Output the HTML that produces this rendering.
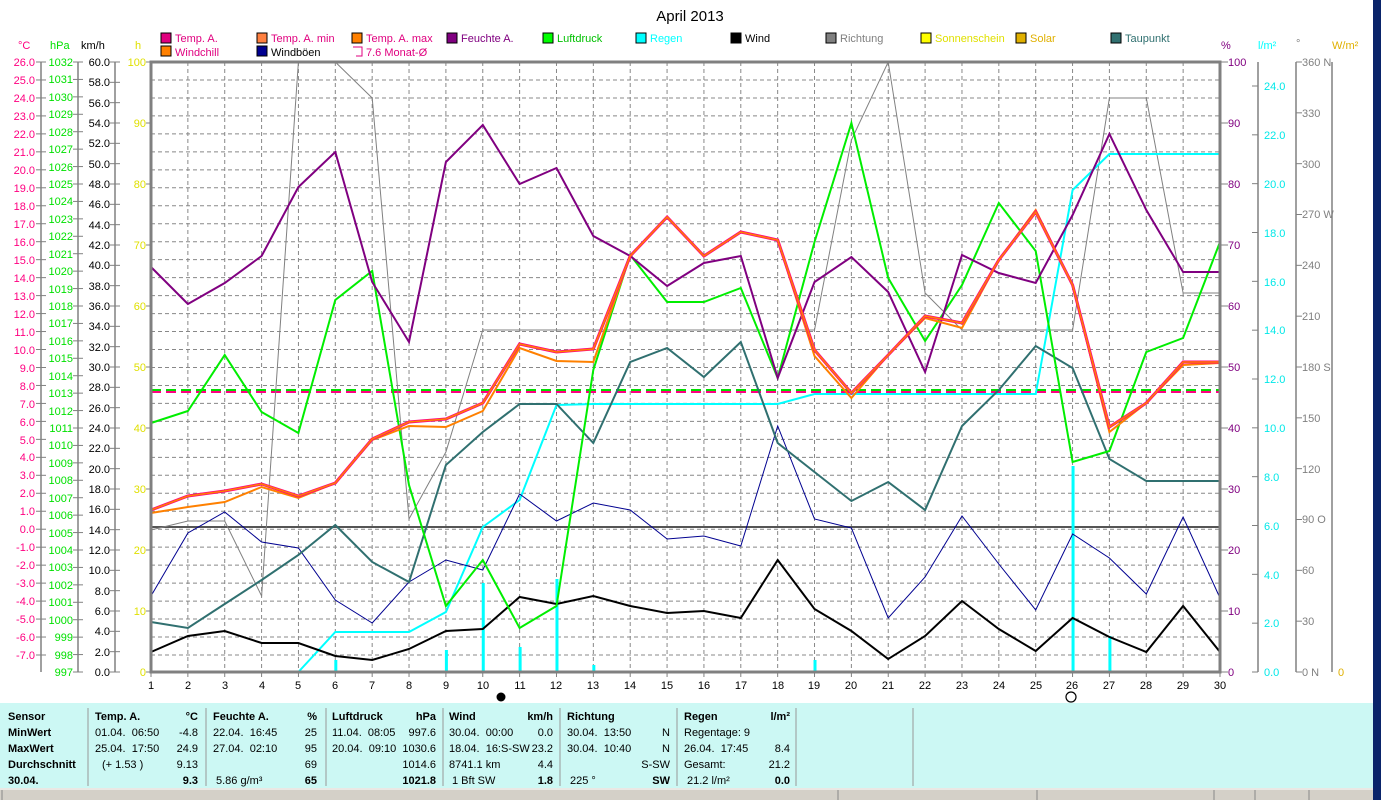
<!DOCTYPE html>
<html><head><meta charset="utf-8"><style>
body{margin:0;width:1381px;height:800px;background:#fff;overflow:hidden;position:relative;font-family:"Liberation Sans",sans-serif}
svg{position:absolute;left:0;top:0}
.t{position:absolute;font-size:11px;white-space:nowrap;color:#000;line-height:13px}
.b{font-weight:bold}
.r{text-align:right}
</style></head><body>
<svg width="1381" height="800" viewBox="0 0 1381 800" font-family="Liberation Sans, sans-serif" font-size="11">
<rect x="0" y="703" width="1373" height="86" fill="#ccf8f4"/>
<rect x="0" y="788" width="1373" height="12" fill="#d4d0c8"/>
<g stroke="#888" stroke-width="1"><line x1="2" y1="790" x2="2" y2="800"/><line x1="838" y1="790" x2="838" y2="800"/><line x1="1037" y1="790" x2="1037" y2="800"/><line x1="1214" y1="790" x2="1214" y2="800"/><line x1="1255" y1="790" x2="1255" y2="800"/><line x1="1309" y1="790" x2="1309" y2="800"/><line x1="0" y1="789" x2="1373" y2="789" stroke="#fff"/></g>
<g stroke="#999" stroke-width="1"><line x1="88" y1="708" x2="88" y2="786"/><line x1="206" y1="708" x2="206" y2="786"/><line x1="326" y1="708" x2="326" y2="786"/><line x1="443" y1="708" x2="443" y2="786"/><line x1="560" y1="708" x2="560" y2="786"/><line x1="677" y1="708" x2="677" y2="786"/><line x1="796" y1="708" x2="796" y2="786"/><line x1="913" y1="708" x2="913" y2="786"/></g>
<rect x="1373" y="0" width="8" height="800" fill="#0a246a"/>
<text x="690" y="21" font-size="15" text-anchor="middle">April 2013</text>
<g id="grid" stroke="#888" stroke-dasharray="4,3" stroke-width="1"></g>
<line x1="151" y1="527" x2="1220" y2="527" stroke="#555" stroke-width="2"/>
<line x1="151" y1="390" x2="1220" y2="390" stroke="#00e000" stroke-width="2" stroke-dasharray="10,5"/>
<line x1="151" y1="392" x2="1220" y2="392" stroke="#ff0080" stroke-width="2" stroke-dasharray="10,5"/>
<g id="bars" stroke="#00ffff" stroke-width="3"></g>
<polyline id="rich" fill="none" stroke="#808080" stroke-width="1"/>
<polyline id="regen" fill="none" stroke="#00ffff" stroke-width="2"/>
<polyline id="boe" fill="none" stroke="#000090" stroke-width="1"/>
<polyline id="wind" fill="none" stroke="#000" stroke-width="2"/>
<polyline id="tau" fill="none" stroke="#307070" stroke-width="2"/>
<polyline id="druck" fill="none" stroke="#00ee00" stroke-width="2"/>
<polyline id="feu" fill="none" stroke="#800080" stroke-width="2"/>
<polyline id="tmin" fill="none" stroke="#ff8000" stroke-width="2"/>
<polyline id="temp" fill="none" stroke="#ff0080" stroke-width="3"/>
<polyline id="tmax" fill="none" stroke="#ff8000" stroke-width="1.5"/>
<rect x="151" y="62" width="1069" height="610" fill="none" stroke="#808080" stroke-width="3"/>
<g stroke="#808080" stroke-width="1.5"><line x1="41" y1="62" x2="41" y2="672"/><line x1="78" y1="62" x2="78" y2="672"/><line x1="115" y1="62" x2="115" y2="672"/><line x1="1258" y1="62" x2="1258" y2="672"/><line x1="1296" y1="62" x2="1296" y2="672"/><line x1="1332" y1="62" x2="1332" y2="672"/></g>
<g id="ticks" stroke="#808080" stroke-width="1"></g>
<text x="18" y="49" fill="#ff0080">°C</text><text x="50" y="49" fill="#00e000">hPa</text><text x="81" y="49">km/h</text><text x="135" y="49" fill="#e0e000">h</text>
<text x="1221" y="49" fill="#800080">%</text><text x="1258" y="49" fill="#00ffff">l/m²</text><text x="1296" y="47" fill="#808080">°</text><text x="1332" y="49" fill="#e0b000">W/m²</text>
<g>
<rect x="161" y="33" width="10" height="10" fill="#e0007f" stroke="#000"/><text x="175" y="42" fill="#e0007f">Temp. A.</text>
<rect x="257" y="33" width="10" height="10" fill="#ff8040" stroke="#000"/><text x="271" y="42" fill="#e0007f">Temp. A. min</text>
<rect x="352" y="33" width="10" height="10" fill="#ff8000" stroke="#000"/><text x="366" y="42" fill="#e0007f">Temp. A. max</text>
<rect x="447" y="33" width="10" height="10" fill="#800080" stroke="#000"/><text x="461" y="42" fill="#800080">Feuchte A.</text>
<rect x="543" y="33" width="10" height="10" fill="#00ff00" stroke="#000"/><text x="557" y="42" fill="#00c000">Luftdruck</text>
<rect x="636" y="33" width="10" height="10" fill="#00ffff" stroke="#000"/><text x="650" y="42" fill="#00ffff">Regen</text>
<rect x="731" y="33" width="10" height="10" fill="#000" stroke="#000"/><text x="745" y="42">Wind</text>
<rect x="826" y="33" width="10" height="10" fill="#808080" stroke="#000"/><text x="840" y="42" fill="#808080">Richtung</text>
<rect x="921" y="33" width="10" height="10" fill="#ffff00" stroke="#000"/><text x="935" y="42" fill="#e0e000">Sonnenschein</text>
<rect x="1016" y="33" width="10" height="10" fill="#e0b000" stroke="#000"/><text x="1030" y="42" fill="#e0b000">Solar</text>
<rect x="1111" y="33" width="10" height="10" fill="#307070" stroke="#000"/><text x="1125" y="42" fill="#307070">Taupunkt</text>
<rect x="161" y="46" width="10" height="10" fill="#ff8000" stroke="#000"/><text x="175" y="56" fill="#e0007f">Windchill</text>
<rect x="257" y="46" width="10" height="10" fill="#000090" stroke="#000"/><text x="271" y="56">Windböen</text>
<path d="M353 47 H362 V56 H356" fill="none" stroke="#e0007f"/><text x="366" y="56" fill="#e0007f">7.6 Monat-Ø</text>
</g>
<g fill="#ff0080" text-anchor="end">
<text x="35" y="66">26.0</text><text x="35" y="84">25.0</text><text x="35" y="102">24.0</text><text x="35" y="120">23.0</text><text x="35" y="138">22.0</text><text x="35" y="156">21.0</text><text x="35" y="174">20.0</text><text x="35" y="192">19.0</text><text x="35" y="210">18.0</text><text x="35" y="228">17.0</text><text x="35" y="246">16.0</text><text x="35" y="264">15.0</text><text x="35" y="282">14.0</text><text x="35" y="300">13.0</text><text x="35" y="318">12.0</text><text x="35" y="336">11.0</text><text x="35" y="354">10.0</text><text x="35" y="372">9.0</text><text x="35" y="390">8.0</text><text x="35" y="408">7.0</text><text x="35" y="426">6.0</text><text x="35" y="444">5.0</text><text x="35" y="461">4.0</text><text x="35" y="479">3.0</text><text x="35" y="497">2.0</text><text x="35" y="515">1.0</text><text x="35" y="533">0.0</text><text x="35" y="551">-1.0</text><text x="35" y="569">-2.0</text><text x="35" y="587">-3.0</text><text x="35" y="605">-4.0</text><text x="35" y="623">-5.0</text><text x="35" y="641">-6.0</text><text x="35" y="659">-7.0</text>
</g>
<g fill="#00e000" text-anchor="end">
<text x="73" y="66">1032</text><text x="73" y="83">1031</text><text x="73" y="101">1030</text><text x="73" y="118">1029</text><text x="73" y="136">1028</text><text x="73" y="153">1027</text><text x="73" y="171">1026</text><text x="73" y="188">1025</text><text x="73" y="205">1024</text><text x="73" y="223">1023</text><text x="73" y="240">1022</text><text x="73" y="258">1021</text><text x="73" y="275">1020</text><text x="73" y="293">1019</text><text x="73" y="310">1018</text><text x="73" y="327">1017</text><text x="73" y="345">1016</text><text x="73" y="362">1015</text><text x="73" y="380">1014</text><text x="73" y="397">1013</text><text x="73" y="415">1012</text><text x="73" y="432">1011</text><text x="73" y="449">1010</text><text x="73" y="467">1009</text><text x="73" y="484">1008</text><text x="73" y="502">1007</text><text x="73" y="519">1006</text><text x="73" y="537">1005</text><text x="73" y="554">1004</text><text x="73" y="571">1003</text><text x="73" y="589">1002</text><text x="73" y="606">1001</text><text x="73" y="624">1000</text><text x="73" y="641">999</text><text x="73" y="659">998</text><text x="73" y="676">997</text>
</g>
<g fill="#000" text-anchor="end">
<text x="110" y="66">60.0</text><text x="110" y="86">58.0</text><text x="110" y="107">56.0</text><text x="110" y="127">54.0</text><text x="110" y="147">52.0</text><text x="110" y="168">50.0</text><text x="110" y="188">48.0</text><text x="110" y="208">46.0</text><text x="110" y="229">44.0</text><text x="110" y="249">42.0</text><text x="110" y="269">40.0</text><text x="110" y="290">38.0</text><text x="110" y="310">36.0</text><text x="110" y="330">34.0</text><text x="110" y="351">32.0</text><text x="110" y="371">30.0</text><text x="110" y="391">28.0</text><text x="110" y="412">26.0</text><text x="110" y="432">24.0</text><text x="110" y="452">22.0</text><text x="110" y="473">20.0</text><text x="110" y="493">18.0</text><text x="110" y="513">16.0</text><text x="110" y="534">14.0</text><text x="110" y="554">12.0</text><text x="110" y="574">10.0</text><text x="110" y="595">8.0</text><text x="110" y="615">6.0</text><text x="110" y="635">4.0</text><text x="110" y="656">2.0</text><text x="110" y="676">0.0</text>
</g>
<g fill="#e0e000" text-anchor="end">
<text x="146" y="66">100</text><text x="146" y="127">90</text><text x="146" y="188">80</text><text x="146" y="249">70</text><text x="146" y="310">60</text><text x="146" y="371">50</text><text x="146" y="432">40</text><text x="146" y="493">30</text><text x="146" y="554">20</text><text x="146" y="615">10</text><text x="146" y="676">0</text>
</g>
<g fill="#800080">
<text x="1228" y="66">100</text><text x="1228" y="127">90</text><text x="1228" y="188">80</text><text x="1228" y="249">70</text><text x="1228" y="310">60</text><text x="1228" y="371">50</text><text x="1228" y="432">40</text><text x="1228" y="493">30</text><text x="1228" y="554">20</text><text x="1228" y="615">10</text><text x="1228" y="676">0</text>
</g>
<g fill="#00e8e8">
<text x="1264" y="90">24.0</text><text x="1264" y="139">22.0</text><text x="1264" y="188">20.0</text><text x="1264" y="237">18.0</text><text x="1264" y="286">16.0</text><text x="1264" y="334">14.0</text><text x="1264" y="383">12.0</text><text x="1264" y="432">10.0</text><text x="1264" y="481">8.0</text><text x="1264" y="530">6.0</text><text x="1264" y="579">4.0</text><text x="1264" y="627">2.0</text><text x="1264" y="676">0.0</text>
</g>
<g fill="#808080">
<text x="1302" y="66">360 N</text><text x="1302" y="117">330</text><text x="1302" y="168">300</text><text x="1302" y="218">270 W</text><text x="1302" y="269">240</text><text x="1302" y="320">210</text><text x="1302" y="371">180 S</text><text x="1302" y="422">150</text><text x="1302" y="473">120</text><text x="1302" y="523">90 O</text><text x="1302" y="574">60</text><text x="1302" y="625">30</text><text x="1302" y="676">0 N</text>
</g>
<text x="1338" y="676" fill="#e0b000">0</text>
<g text-anchor="middle" font-size="11">
<text x="151" y="689">1</text><text x="188" y="689">2</text><text x="225" y="689">3</text><text x="262" y="689">4</text><text x="298" y="689">5</text><text x="335" y="689">6</text><text x="372" y="689">7</text><text x="409" y="689">8</text><text x="446" y="689">9</text><text x="483" y="689">10</text><text x="520" y="689">11</text><text x="556" y="689">12</text><text x="593" y="689">13</text><text x="630" y="689">14</text><text x="667" y="689">15</text><text x="704" y="689">16</text><text x="741" y="689">17</text><text x="778" y="689">18</text><text x="814" y="689">19</text><text x="851" y="689">20</text><text x="888" y="689">21</text><text x="925" y="689">22</text><text x="962" y="689">23</text><text x="999" y="689">24</text><text x="1036" y="689">25</text><text x="1072" y="689">26</text><text x="1109" y="689">27</text><text x="1146" y="689">28</text><text x="1183" y="689">29</text><text x="1220" y="689">30</text>
</g>
<circle cx="501" cy="697" r="4.5" fill="#000"/>
<circle cx="1071" cy="697" r="5" fill="none" stroke="#000" stroke-width="1.2"/>
</svg>

<div class="t b" style="left:8px;top:711px">Sensor</div>
<div class="t b" style="left:8px;top:727px">MinWert</div>
<div class="t b" style="left:8px;top:743px">MaxWert</div>
<div class="t b" style="left:8px;top:759px">Durchschnitt</div>
<div class="t b" style="left:8px;top:775px">30.04.</div>

<div class="t b" style="left:95px;top:711px">Temp. A.</div><div class="t b r" style="left:150px;width:48px;top:711px">°C</div>
<div class="t" style="left:95px;top:727px">01.04.&nbsp; 06:50</div><div class="t r" style="left:150px;width:48px;top:727px">-4.8</div>
<div class="t" style="left:95px;top:743px">25.04.&nbsp; 17:50</div><div class="t r" style="left:150px;width:48px;top:743px">24.9</div>
<div class="t" style="left:102px;top:759px">(+ 1.53 )</div><div class="t r" style="left:150px;width:48px;top:759px">9.13</div>
<div class="t b r" style="left:150px;width:48px;top:775px">9.3</div>

<div class="t b" style="left:213px;top:711px">Feuchte A.</div><div class="t b r" style="left:270px;width:47px;top:711px">%</div>
<div class="t" style="left:213px;top:727px">22.04.&nbsp; 16:45</div><div class="t r" style="left:270px;width:47px;top:727px">25</div>
<div class="t" style="left:213px;top:743px">27.04.&nbsp; 02:10</div><div class="t r" style="left:270px;width:47px;top:743px">95</div>
<div class="t r" style="left:270px;width:47px;top:759px">69</div>
<div class="t" style="left:216px;top:775px">5.86 g/m³</div><div class="t b r" style="left:270px;width:47px;top:775px">65</div>

<div class="t b" style="left:332px;top:711px">Luftdruck</div><div class="t b r" style="left:380px;width:56px;top:711px">hPa</div>
<div class="t" style="left:332px;top:727px">11.04.&nbsp; 08:05</div><div class="t r" style="left:380px;width:56px;top:727px">997.6</div>
<div class="t" style="left:332px;top:743px">20.04.&nbsp; 09:10</div><div class="t r" style="left:380px;width:56px;top:743px">1030.6</div>
<div class="t r" style="left:380px;width:56px;top:759px">1014.6</div>
<div class="t b r" style="left:380px;width:56px;top:775px">1021.8</div>

<div class="t b" style="left:449px;top:711px">Wind</div><div class="t b r" style="left:500px;width:53px;top:711px">km/h</div>
<div class="t" style="left:449px;top:727px">30.04.&nbsp; 00:00</div><div class="t r" style="left:500px;width:53px;top:727px">0.0</div>
<div class="t" style="left:449px;top:743px">18.04.&nbsp; 16:S-SW</div><div class="t r" style="left:520px;width:33px;top:743px">23.2</div>
<div class="t" style="left:449px;top:759px">8741.1 km</div><div class="t r" style="left:500px;width:53px;top:759px">4.4</div>
<div class="t" style="left:452px;top:775px">1 Bft SW</div><div class="t b r" style="left:500px;width:53px;top:775px">1.8</div>

<div class="t b" style="left:567px;top:711px">Richtung</div>
<div class="t" style="left:567px;top:727px">30.04.&nbsp; 13:50</div><div class="t r" style="left:620px;width:50px;top:727px">N</div>
<div class="t" style="left:567px;top:743px">30.04.&nbsp; 10:40</div><div class="t r" style="left:620px;width:50px;top:743px">N</div>
<div class="t r" style="left:620px;width:50px;top:759px">S-SW</div>
<div class="t" style="left:570px;top:775px">225 °</div><div class="t b r" style="left:620px;width:50px;top:775px">SW</div>

<div class="t b" style="left:684px;top:711px">Regen</div><div class="t b r" style="left:740px;width:50px;top:711px">l/m²</div>
<div class="t" style="left:684px;top:727px">Regentage: 9</div>
<div class="t" style="left:684px;top:743px">26.04.&nbsp; 17:45</div><div class="t r" style="left:740px;width:50px;top:743px">8.4</div>
<div class="t" style="left:684px;top:759px">Gesamt:</div><div class="t r" style="left:740px;width:50px;top:759px">21.2</div>
<div class="t" style="left:687px;top:775px">21.2 l/m²</div><div class="t b r" style="left:740px;width:50px;top:775px">0.0</div>

<script>
var X=[];for(var i=0;i<30;i++)X.push(151+i*1069/29);
function pl(id,ys,xs){document.getElementById(id).setAttribute('points',ys.map(function(y,i){return (xs?xs[i]:X[i]).toFixed(1)+','+y}).join(' '));}
var T=[510,496,491,484,496,483,439,422,419,403,344,352,349,256,217,256,232,240,350,393,355,316,323,260,212,285,427,403,362,362];
pl('temp',T);pl('tmax',T);
pl('tmin',[513,507,502,487,498,483,440,426,427,411,348,361,362,256,217,256,232,240,356,398,355,318,328,260,210,285,432,403,365,363]);
pl('feu',[267,304,283,256,187,152,282,342,162,125,184,168,236,256,286,263,256,378,282,257,292,372,255,273,283,215,134,210,272,272]);
pl('druck',[423,411,355,412,433,300,271,485,606,560,628,606,370,255,302,302,288,378,242,123,278,341,285,203,251,462,451,352,338,242]);
pl('tau',[622,628,604,580,555,525,562,582,465,432,404,404,443,362,348,377,342,443,472,501,482,510,426,390,346,368,459,481,481,481]);
pl('boe',[596,533,512,542,548,600,623,582,560,570,494,521,503,510,539,536,546,426,519,528,618,577,516,564,610,534,558,594,517,598]);
pl('wind',[652,636,631,643,643,656,660,649,631,629,597,604,596,606,613,611,618,560,609,631,659,636,601,629,651,618,637,652,606,652]);
pl('rich',[530,521,521,596,62,62,98,519,452,330,330,330,330,330,330,330,330,330,330,140,62,293,330,330,330,330,98,98,293,293]);
pl('regen',[672,632,632,632,612,527,500,405,404,404,404,404,404,404,394,394,394,394,394,394,394,190,154,154,154,154],X.slice(4));
var g=document.getElementById('grid'),s='';
for(var i=1;i<29;i++)s+='<line x1="'+X[i]+'" y1="62" x2="'+X[i]+'" y2="672"/>';
for(var k=1;k<34;k++){var y=62+k*593/33;s+='<line x1="151" y1="'+y+'" x2="1220" y2="'+y+'"/>';}
g.innerHTML=s;
var b=[[5,660],[8,650],[9,583],[10,647],[11,579],[12,665],[18,660],[25,466],[26,636]],bs='';
b.forEach(function(p){bs+='<line x1="'+(X[p[0]]+0.5)+'" y1="'+p[1]+'" x2="'+(X[p[0]]+0.5)+'" y2="672"/>';});
document.getElementById('bars').innerHTML=bs;
var t='';
function tk(x1,x2,y0,y1,n){for(var k=0;k<=n;k++){var y=y0+k*(y1-y0)/n;t+='<line x1="'+x1+'" y1="'+y+'" x2="'+x2+'" y2="'+y+'"/>';}}
tk(36,46,62,655,33);tk(73,83,62,672,35);tk(110,120,62,672,30);tk(146,151,62,672,10);tk(1221,1228,62,672,10);tk(1252,1258,86,672,12);tk(1296,1302,62,672,12);
for(var i=0;i<30;i++)t+='<line x1="'+X[i]+'" y1="672" x2="'+X[i]+'" y2="677"/>';
document.getElementById('ticks').innerHTML=t;
</script>
</body></html>
